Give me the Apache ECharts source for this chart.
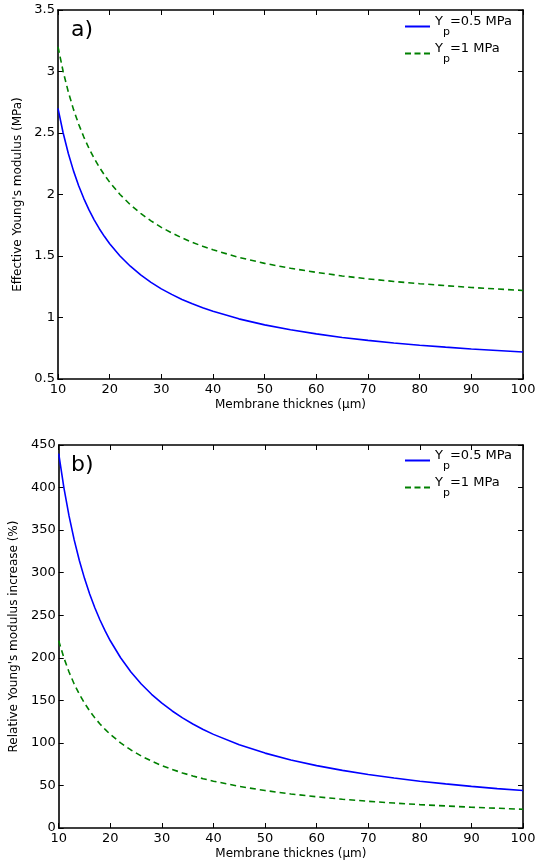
<!DOCTYPE html>
<html><head><meta charset="utf-8">
<script src="https://cdn.jsdelivr.net/npm/echarts@6/dist/echarts.min.js"></script>
<style>html,body{margin:0;padding:0;background:#fff}#c{width:548px;height:865px}</style>
</head><body><div id="c"></div>
<script>
// Membrane thickness (µm)
const thickness = [10,11,12,13,14,15,16,17,18,19,20,22,24,26,28,30,32,34,36,38,40,45,50,55,60,65,70,75,80,85,90,95,100];
// a) Effective Young's modulus (MPa)
const effYp05 = [2.700,2.500,2.333,2.192,2.071,1.967,1.875,1.794,1.722,1.658,1.600,1.500,1.417,1.346,1.286,1.233,1.188,1.147,1.111,1.079,1.050,0.989,0.940,0.900,0.867,0.838,0.814,0.793,0.775,0.759,0.744,0.732,0.720];
const effYp1  = [3.200,3.000,2.833,2.692,2.571,2.467,2.375,2.294,2.222,2.158,2.100,2.000,1.917,1.846,1.786,1.733,1.688,1.647,1.611,1.579,1.550,1.489,1.440,1.400,1.367,1.338,1.314,1.293,1.275,1.259,1.244,1.232,1.220];
// b) Relative Young's modulus increase (%)
const relYp05 = [440,400,366.7,338.5,314.3,293.3,275,258.8,244.4,231.6,220,200,183.3,169.2,157.1,146.7,137.5,129.4,122.2,115.8,110,97.8,88,80,73.3,67.7,62.9,58.7,55,51.8,48.9,46.3,44];
const relYp1  = [220,200,183.3,169.2,157.1,146.7,137.5,129.4,122.2,115.8,110,100,91.7,84.6,78.6,73.3,68.8,64.7,61.1,57.9,55,48.9,44,40,36.7,33.8,31.4,29.3,27.5,25.9,24.4,23.2,22];
const seriesNames = ['Yp=0.5 MPa','Yp=1 MPa'];
const panelLabels = ['a)','b)'];
const yNames = ["Effective Young's modulus (MPa)", "Relative Young's modulus increase (%)"];
const xName = 'Membrane thicknes (μm)';

const FONT = 'DejaVu Sans';
const pair = arr => thickness.map((t,i)=>[t, arr[i]]);

function xAx(gi, main){
  return {
    type:'value', gridIndex:gi, min:10, max:100, interval:10, position: main?'bottom':'top',
    name: main?xName:'', nameLocation:'middle', nameGap:20,
    nameTextStyle:{fontFamily:FONT,fontSize:12,color:'#000'},
    axisLine:{show:true,onZero:false,lineStyle:{color:'#000',width:1.6}},
    axisTick:{show:true,inside:true,length:5,lineStyle:{color:'#000',width:1}},
    axisLabel:{show:main,margin:4,fontFamily:FONT,fontSize:13,color:'#000'},
    splitLine:{show:false}
  };
}
function yAx(gi, main, min, max, interval, gap){
  return {
    type:'value', gridIndex:gi, min:min, max:max, interval:interval, position: main?'left':'right',
    name: main?yNames[gi]:'', nameLocation:'middle', nameGap:gap, nameRotate:90,
    nameTextStyle:{fontFamily:FONT,fontSize:12,color:'#000'},
    axisLine:{show:true,onZero:false,lineStyle:{color:'#000',width:1.6}},
    axisTick:{show:true,inside:true,length:5,lineStyle:{color:'#000',width:1}},
    axisLabel:{show:main,margin:3,fontFamily:FONT,fontSize:13,color:'#000'},
    splitLine:{show:false}
  };
}
const rich = {
  a:{fontFamily:FONT,fontSize:13,color:'#000',lineHeight:14,padding:[-10,0,0,0]},
  s:{fontFamily:FONT,fontSize:11,color:'#000',lineHeight:13,padding:[12,0,0,0]}
};
function legendFmt(name){
  return name===seriesNames[0] ? '{a|Y}{s|p}{a|=0.5 MPa}' : '{a|Y}{s|p}{a|=1 MPa}';
}
const solidIcon = 'path://M0,0h25v2h-25z';
const dashIcon = 'path://M0,0h6v2h-6zM9.5,0h6v2h-6zM19,0h6v2h-6z';
function lg(top){
  return {
    data: [{name:seriesNames[0], icon:solidIcon}, {name:seriesNames[1], icon:dashIcon}],
    orient:'vertical', left:405, top:top, padding:0, itemWidth:25, itemHeight:2, itemGap:4,
    formatter: legendFmt, textStyle:{rich:rich}, selectedMode:false
  };
}
function ser(name, data, xi, yi){
  const dashed = name===seriesNames[1];
  return {
    name:name, type:'line', xAxisIndex:xi, yAxisIndex:yi, data:data, symbol:'none', smooth:false,
    lineStyle:{color: dashed?'#008000':'#0000ff', width:1.6, type: dashed?[6,4]:'solid'},
    itemStyle:{color: dashed?'#008000':'#0000ff'}, animation:false
  };
}
const chart = echarts.init(document.getElementById('c'), null, {renderer:'canvas'});
chart.setOption({
  animation:false,
  title:[
    {text:panelLabels[0], left:66, top:14, textStyle:{fontFamily:FONT,fontSize:22,fontWeight:'normal',color:'#000'}},
    {text:panelLabels[1], left:66, top:449, textStyle:{fontFamily:FONT,fontSize:22,fontWeight:'normal',color:'#000'}}
  ],
  legend:[lg(15), lg(449)],
  grid:[
    {left:58, right:25, top:10, bottom:486},
    {left:58, right:25, top:445, bottom:37}
  ],
  xAxis:[xAx(0,true), xAx(0,false), xAx(1,true), xAx(1,false)],
  yAxis:[yAx(0,true,0.5,3.5,0.5,25), yAx(0,false,0.5,3.5,0.5,0), yAx(1,true,0,450,50,24), yAx(1,false,0,450,50,0)],
  series:[
    ser(seriesNames[0], pair(effYp05), 0, 0),
    ser(seriesNames[1], pair(effYp1), 0, 0),
    ser(seriesNames[0], pair(relYp05), 2, 2),
    ser(seriesNames[1], pair(relYp1), 2, 2)
  ]
});
</script></body></html>
